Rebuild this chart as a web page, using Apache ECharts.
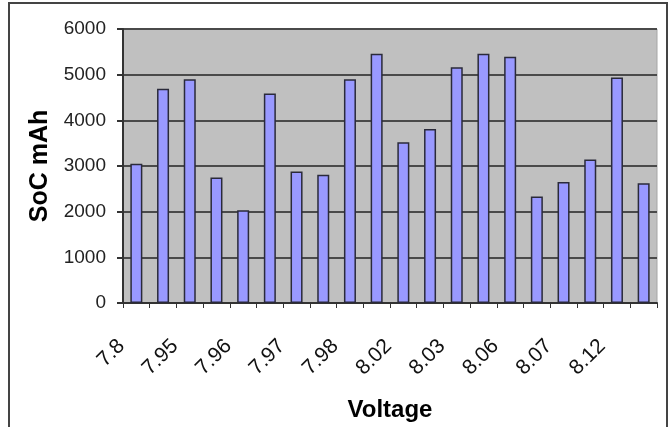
<!DOCTYPE html>
<html>
<head>
<meta charset="utf-8">
<script src="https://cdn.jsdelivr.net/npm/echarts@6/dist/echarts.min.js"></script>
<style>
  html, body { margin: 0; padding: 0; background: #fff; }
  #main { width: 668px; height: 427px; }
</style>
</head>
<body>
<div id="main"></div>
<script>
// voltage categories, only every other one is printed on the axis
var voltage = ['7.8', '', '7.95', '', '7.96', '', '7.97', '', '7.98', '',
               '8.02', '', '8.03', '', '8.06', '', '8.07', '', '8.12', ''];
var soc = [3050, 4690, 4900, 2750, 2030, 4590, 2880, 2810, 4900, 5460,
           3520, 3810, 5160, 5460, 5390, 2330, 2650, 3140, 4940, 2620];
var yTicks = [0, 6000, 1000]; // min, max, step

var myChart = echarts.init(document.getElementById('main'));
var font = 'Liberation Sans, Arial, sans-serif';

var option = {
    animation: false,
    backgroundColor: '#fff',
    graphic: [{
        type: 'rect',
        z: 100,
        shape: { x: 9, y: 3, width: 658, height: 440 },
        style: { fill: 'none', stroke: '#444', lineWidth: 2 },
        silent: true
    }],
    grid: {
        left: 123, right: 11, top: 29, bottom: 114,
        show: true,
        backgroundColor: '#c0c0c0',
        borderColor: '#a6a6a6',
        borderWidth: 1
    },
    xAxis: {
        type: 'category',
        data: voltage,
        name: 'Voltage',
        nameLocation: 'middle',
        nameGap: 95,
        nameTextStyle: { fontFamily: font, fontSize: 24, fontWeight: 'bold', color: '#000' },
        axisLine: { lineStyle: { color: '#333', width: 2 } },
        axisTick: { show: true, interval: 0, length: 5, lineStyle: { color: '#333', width: 1 } },
        axisLabel: {
            interval: 0,
            rotate: 45,
            margin: 25,
            padding: [0, 21, 0, 0],
            fontFamily: font,
            fontSize: 21,
            color: '#111'
        }
    },
    yAxis: {
        type: 'value',
        min: yTicks[0],
        max: yTicks[1],
        interval: yTicks[2],
        name: 'SoC mAh',
        nameLocation: 'middle',
        nameGap: 70,
        nameTextStyle: { fontFamily: font, fontSize: 25, fontWeight: 'bold', color: '#000' },
        axisLine: { show: true, lineStyle: { color: '#333', width: 2 } },
        axisTick: { show: true, length: 6, lineStyle: { color: '#333', width: 2 } },
        axisLabel: {
            margin: 17, fontFamily: font, fontSize: 19, color: '#222',
            formatter: function (v) { return String(v); }
        },
        splitLine: { lineStyle: { color: '#4a4a4a', width: 2 } }
    },
    series: [{
        type: 'bar',
        data: soc,
        barCategoryGap: '55%',
        itemStyle: { color: '#9999ff', borderColor: '#2a2a3a', borderWidth: 1.5 }
    }]
};
myChart.setOption(option);
</script>
</body>
</html>
